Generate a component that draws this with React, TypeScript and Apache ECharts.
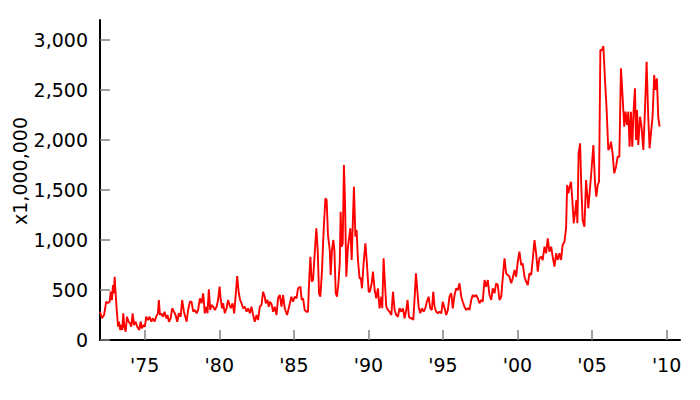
import React, { useEffect, useRef } from "react";
import * as echarts from "echarts";

const dates: number[] = [
  1972.0, 1972.13, 1972.27, 1972.42, 1972.54, 1972.65, 1972.72, 1972.8, 1972.87, 1972.94, 1972.98,
  1973.09, 1973.21, 1973.27, 1973.36, 1973.43, 1973.49, 1973.56, 1973.63, 1973.72, 1973.81, 1973.92,
  1974.01, 1974.1, 1974.19, 1974.28, 1974.39, 1974.5, 1974.63, 1974.73, 1974.81, 1974.93,
  1975.01, 1975.1, 1975.22, 1975.33, 1975.44, 1975.55, 1975.66, 1975.77, 1975.88, 1975.95,
  1976.02, 1976.11, 1976.22, 1976.33, 1976.44, 1976.53, 1976.62, 1976.74, 1976.84, 1976.96,
  1977.07, 1977.18, 1977.29, 1977.41, 1977.51, 1977.63, 1977.81, 1977.91,
  1978.03, 1978.14, 1978.25, 1978.36, 1978.48, 1978.58, 1978.7, 1978.81, 1978.92,
  1979.03, 1979.15, 1979.21, 1979.3, 1979.39, 1979.48, 1979.59, 1979.7, 1979.82, 1979.92,
  1980.02, 1980.1, 1980.19, 1980.26, 1980.37, 1980.49, 1980.59, 1980.69, 1980.77, 1980.89,
  1981.0, 1981.11, 1981.2, 1981.31, 1981.4, 1981.49, 1981.6, 1981.71, 1981.83, 1981.93,
  1982.05, 1982.16, 1982.27, 1982.38, 1982.5, 1982.6, 1982.72, 1982.83, 1982.94,
  1983.05, 1983.12, 1983.23, 1983.32, 1983.41, 1983.52, 1983.61, 1983.72, 1983.84, 1983.94,
  1984.06, 1984.17, 1984.28, 1984.39, 1984.55, 1984.68, 1984.84, 1984.95,
  1985.06, 1985.18, 1985.28, 1985.44, 1985.53, 1985.62, 1985.73, 1985.85, 1985.95,
  1986.02, 1986.11, 1986.2, 1986.29, 1986.4, 1986.51, 1986.6, 1986.69, 1986.78, 1986.89,
  1987.0, 1987.12, 1987.2, 1987.29, 1987.41, 1987.47, 1987.56, 1987.65, 1987.72, 1987.81, 1987.89, 1987.99,
  1988.08, 1988.14, 1988.21, 1988.28, 1988.36, 1988.43, 1988.52, 1988.63, 1988.72, 1988.79, 1988.88,
  1989.03, 1989.13, 1989.21, 1989.3, 1989.41, 1989.5, 1989.57, 1989.68, 1989.8, 1989.9,
  1990.02, 1990.1, 1990.22, 1990.31, 1990.42, 1990.53, 1990.64, 1990.75, 1990.87, 1990.93,
  1991.02, 1991.11, 1991.2, 1991.31, 1991.42, 1991.54, 1991.65, 1991.76, 1991.87, 1991.98,
  1992.09, 1992.21, 1992.32, 1992.43, 1992.54, 1992.63, 1992.72, 1992.81, 1992.92,
  1993.01, 1993.1, 1993.19, 1993.28, 1993.37, 1993.48, 1993.59, 1993.7, 1993.82, 1993.92,
  1994.04, 1994.15, 1994.26, 1994.35, 1994.44, 1994.55, 1994.66, 1994.77, 1994.89, 1994.99,
  1995.11, 1995.22, 1995.33, 1995.44, 1995.56, 1995.66, 1995.78, 1995.89,
  1996.0, 1996.11, 1996.23, 1996.33, 1996.45, 1996.56, 1996.67, 1996.78, 1996.9,
  1997.0, 1997.12, 1997.23, 1997.34, 1997.45, 1997.57, 1997.67, 1997.79, 1997.9,
  1998.01, 1998.12, 1998.24, 1998.34, 1998.46, 1998.57, 1998.68, 1998.79, 1998.91,
  1999.01, 1999.13, 1999.24, 1999.35, 1999.46, 1999.58, 1999.68, 1999.8, 1999.91,
  2000.02, 2000.13, 2000.25, 2000.35, 2000.47, 2000.58, 2000.69, 2000.8, 2000.92,
  2001.02, 2001.14, 2001.25, 2001.36, 2001.47, 2001.59, 2001.69, 2001.81, 2001.92,
  2002.03, 2002.14, 2002.26, 2002.36, 2002.48, 2002.59, 2002.7, 2002.81, 2002.92,
  2003.03, 2003.15, 2003.26, 2003.33, 2003.41, 2003.5, 2003.59, 2003.68, 2003.77, 2003.86, 2003.95,
  2004.02, 2004.1, 2004.2, 2004.28, 2004.37, 2004.49, 2004.6, 2004.75, 2004.93,
  2005.09, 2005.2, 2005.29, 2005.38, 2005.47, 2005.56, 2005.67, 2005.76, 2005.87, 2005.98,
  2006.09, 2006.18, 2006.27, 2006.38, 2006.49, 2006.61, 2006.72, 2006.83, 2006.94,
  2007.05, 2007.16, 2007.25, 2007.35, 2007.43, 2007.52, 2007.61, 2007.7, 2007.79, 2007.88, 2007.95,
  2008.02, 2008.1, 2008.22, 2008.32, 2008.44, 2008.55, 2008.66, 2008.77, 2008.86, 2008.95,
  2009.06, 2009.17, 2009.26, 2009.35, 2009.44, 2009.53,
];

const values: number[] = [
  283, 217, 250, 383, 370, 383, 483, 400, 550, 467, 633,
  367, 133, 183, 100, 150, 100, 267, 133, 83, 233, 183,
  167, 133, 267, 150, 183, 133, 100, 183, 117, 150,
  133, 233, 200, 233, 183, 217, 183, 233, 267, 400,
  250, 267, 233, 283, 217, 250, 183, 217, 317, 283,
  250, 183, 267, 233, 400, 283, 183, 300,
  383, 383, 283, 300, 267, 300, 417, 367, 467,
  267, 333, 267, 507, 300, 350, 333, 300, 333, 400,
  533, 400, 317, 367, 267, 317, 400, 350, 317, 367,
  267, 467, 640, 467, 400, 367, 317, 333, 283, 317,
  267, 333, 250, 183, 250, 200, 333, 350, 483,
  433, 367, 400, 333, 383, 350, 283, 333, 250, 417,
  450, 333, 450, 317, 250, 333, 433, 383,
  433, 417, 517, 533, 400, 417, 300, 283, 283,
  567, 833, 583, 600, 867, 1117, 900, 467, 433, 700,
  1100, 1417, 1400, 1050, 900, 650, 900, 1000, 900, 467, 433, 567,
  767, 1283, 933, 967, 1750, 1400, 633, 933, 1033, 1117, 800,
  1533, 1033, 1100, 800, 617, 617, 517, 767, 967, 767,
  483, 483, 567, 683, 500, 417, 517, 317, 433, 317,
  817, 567, 333, 300, 283, 250, 483, 300, 250, 233,
  317, 283, 317, 217, 300, 400, 233, 217, 217,
  200, 417, 667, 500, 333, 267, 317, 283, 317, 383,
  433, 317, 300, 483, 333, 283, 267, 283, 267, 383,
  317, 250, 300, 433, 467, 317, 450, 517,
  500, 567, 433, 383, 330, 300, 320, 300, 400,
  450, 433, 450, 417, 367, 400, 383, 600, 533,
  600, 450, 400, 517, 467, 567, 550, 400, 433,
  617, 817, 667, 650, 633, 567, 617, 700, 633,
  783, 883, 750, 767, 633, 583, 550, 667, 650,
  800, 1000, 867, 683, 817, 833, 800, 933, 867,
  1017, 883, 933, 833, 733, 867, 800, 867, 800,
  950, 983, 1117, 1550, 1467, 1533, 1583, 1400, 1167, 1267, 1400,
  1167, 1867, 1967, 1533, 1200, 1133, 1600, 1317, 1633,
  1950, 1567, 1433, 1550, 1583, 2900, 2900, 2940, 2600, 2300,
  1900, 1917, 1983, 1867, 1667, 1733, 1833, 1833, 2717,
  2433, 2133, 2283, 2150, 2283, 1933, 2283, 1933, 2300, 2517, 2000,
  2300, 1950, 2233, 2133, 1900, 2300, 2783, 2233, 1917, 2067,
  2233, 2650, 2500, 2617, 2233, 2133,
];

const yTicks: number[] = [0, 500, 1000, 1500, 2000, 2500, 3000];
const xTicks: number[] = [1975, 1980, 1985, 1990, 1995, 2000, 2005, 2010];
const yAxisTitle = "x1,000,000";

const FONT = "DejaVu Sans";

export default function App() {
  const ref = useRef<HTMLDivElement>(null);
  useEffect(() => {
    if (!ref.current) return;
    const chart = echarts.init(ref.current, undefined, { renderer: "svg" });
    const data = dates.map((d, i) => [d, values[i]]);
    chart.setOption({
      animation: false,
      backgroundColor: "#ffffff",
      grid: { left: 100, right: 20, top: 20, bottom: 60, containLabel: false },
      xAxis: {
        type: "value",
        min: 1972,
        max: 2010.9,
        splitLine: { show: false },
        axisLine: { show: true, onZero: false, lineStyle: { color: "#000", width: 2 } },
        axisTick: {
          show: true,
          inside: true,
          length: 10,
          customValues: xTicks,
          lineStyle: { color: "#808080", width: 1.5 },
        },
        axisLabel: {
          customValues: xTicks,
          margin: 15,
          color: "#000",
          fontFamily: FONT,
          fontSize: 19,
          formatter: (v: number) => "'" + String(Math.round(v)).slice(2),
        },
      },
      yAxis: {
        type: "value",
        min: 0,
        max: 3200,
        splitLine: { show: false },
        axisLine: { show: true, lineStyle: { color: "#000", width: 2 } },
        axisTick: {
          show: true,
          inside: true,
          length: 10,
          customValues: yTicks,
          lineStyle: { color: "#808080", width: 1.5 },
        },
        axisLabel: {
          customValues: yTicks,
          margin: 12,
          color: "#000",
          fontFamily: FONT,
          fontSize: 19,
          formatter: (v: number) => v.toLocaleString("en-US"),
        },
      },
      graphic: [
        {
          type: "text",
          x: 20,
          y: 171,
          rotation: Math.PI / 2,
          style: {
            text: yAxisTitle,
            fontFamily: FONT,
            fontSize: 19,
            fill: "#000",
            textAlign: "center",
            textVerticalAlign: "middle",
          },
        },
      ],
      series: [
        {
          type: "line",
          data,
          showSymbol: false,
          symbol: "none",
          lineStyle: { color: "#ff0000", width: 1.9 },
        },
      ],
    });
    return () => chart.dispose();
  }, []);
  return (
    <div
      ref={ref}
      style={{ position: "absolute", left: 0, top: 0, width: 700, height: 400 }}
    />
  );
}
